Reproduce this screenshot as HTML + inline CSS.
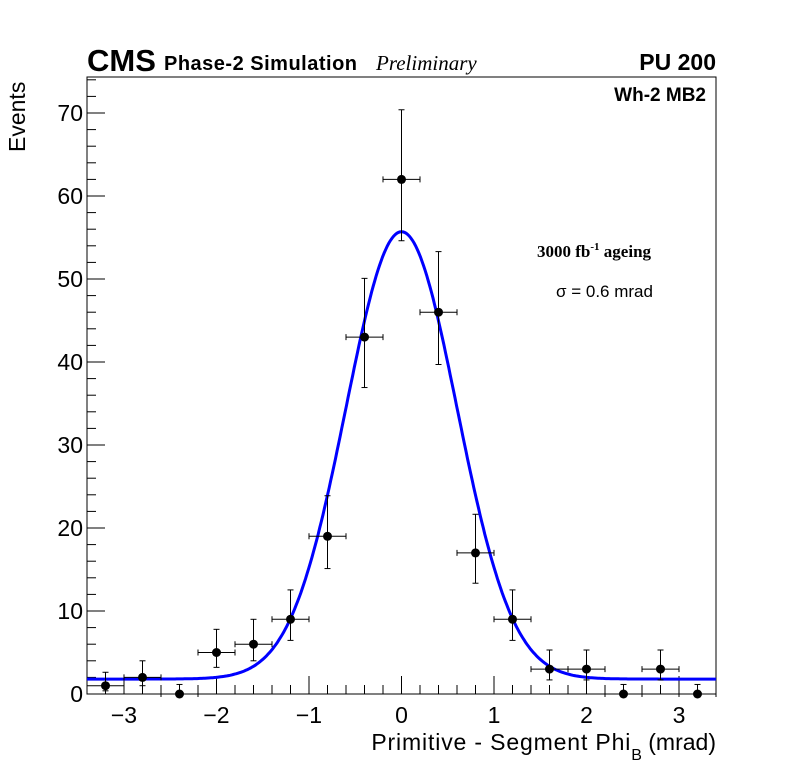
<!DOCTYPE html>
<html><head><meta charset="utf-8"><style>
body{margin:0;background:#fff}
svg{display:block;font-family:"Liberation Sans",sans-serif}
</style></head><body>
<svg id="chart" width="796" height="772">
<rect x="0" y="0" width="796" height="772" fill="#fff"/>
<rect x="87" y="77" width="629" height="617" fill="none" stroke="#000" stroke-width="1"/>
<g id="axes"></g>
<g id="marks"></g>
<text x="87" y="71" font-size="31" font-weight="bold">CMS</text>
<text x="164" y="70" font-size="20" font-weight="bold" textLength="193">Phase-2 Simulation</text>
<text x="376" y="70" font-size="21" font-style="italic" font-family="Liberation Serif">Preliminary</text>
<text x="716" y="70" font-size="23" font-weight="bold" text-anchor="end">PU 200</text>
<text x="706" y="101" font-size="19" font-weight="bold" text-anchor="end">Wh-2 MB2</text>
<text x="537" y="257" font-size="17" font-weight="bold" font-family="Liberation Serif">3000 fb<tspan dy="-7" font-size="11">-1</tspan><tspan dy="7"> ageing</tspan></text>
<text x="556" y="297" font-size="17">σ = 0.6 mrad</text>
<text x="716" y="750" font-size="23" text-anchor="end"><tspan textLength="259">Primitive - Segment Phi</tspan><tspan dy="10" font-size="16">B</tspan><tspan dy="-10"> (mrad)</tspan></text>
<text transform="translate(25,152) rotate(-90)" font-size="23">Events</text>
</svg>
<script>
const centers=[-3.2,-2.8,-2.4,-2.0,-1.6,-1.2,-0.8,-0.4,0,0.4,0.8,1.2,1.6,2.0,2.4,2.8,3.2];
const counts=[1,2,0,5,6,9,19,43,62,46,17,9,3,3,0,3,0];
const xTicks=[-3,-2,-1,0,1,2,3];
const yTicks=[0,10,20,30,40,50,60,70];
const fitConst=[1.8], fitAmp=[53.9], fitMean=[0], fitSigma=[0.6];
const binWidth=0.4;
const NS="http://www.w3.org/2000/svg";
const X=v=>401.5+v*92.5, Y=v=>694-v*8.3;
function mk(t,a,p){const e=document.createElementNS(NS,t);for(const k in a)e.setAttribute(k,a[k]);p.appendChild(e);return e;}
const ax=document.getElementById('axes'), mg=document.getElementById('marks');
for(let i=-17;i<=17;i++){const v=i*0.2;const maj=i%5===0;
 const t=mk('line',{x1:X(v),x2:X(v),y1:694,y2:maj?676:685,stroke:'#000'},ax);
 
 }
for(let i=0;i<=37;i++){const v=i*2;const maj=i%5===0;
 const t=mk('line',{x1:87,x2:maj?105:96,y1:Y(v),y2:Y(v),stroke:'#000'},ax);
 
 }
xTicks.forEach(v=>{const t=mk('text',{x:X(v),y:723,'font-size':23,'text-anchor':'middle'},ax);t.textContent=(v<0?'\u2212':'')+Math.abs(v);
 
 });
yTicks.forEach(v=>{const t=mk('text',{x:83,y:Y(v)+8,'font-size':23,'text-anchor':'end'},ax);t.textContent=v;
 
 });
let d='';for(let i=0;i<=400;i++){const x=-3.4+6.8*i/400;const y=fitConst[0]+fitAmp[0]*Math.exp(-((x-fitMean[0])**2)/(2*fitSigma[0]**2));d+=(i?'L':'M')+X(x).toFixed(1)+','+Y(y).toFixed(1);}
const fl=mk('path',{d:d,fill:'none',stroke:'#0000ff','stroke-width':3},mg);


centers.forEach((c,i)=>{const n=counts[i];const s=Math.sqrt(n+0.25);const up=n>0?s+0.5:1.15,dn=n>0?s-0.5:0;const g=mk('g',{},mg);
 
 
 mk('line',{x1:X(c-binWidth/2),x2:X(c+binWidth/2),y1:Y(n),y2:Y(n),stroke:'#000'},g);
 [X(c-binWidth/2),X(c+binWidth/2)].forEach(x=>mk('line',{x1:x,x2:x,y1:Y(n)-3,y2:Y(n)+3,stroke:'#000'},g));
 mk('line',{x1:X(c),x2:X(c),y1:Y(n+up),y2:Y(n-dn),stroke:'#000'},g);
 [Y(n+up),Y(n-dn)].forEach(y=>mk('line',{x1:X(c)-3,x2:X(c)+3,y1:y,y2:y,stroke:'#000'},g));
 mk('circle',{cx:X(c),cy:Y(n),r:4.5,fill:'#000'},g);});
</script>
</body></html>
